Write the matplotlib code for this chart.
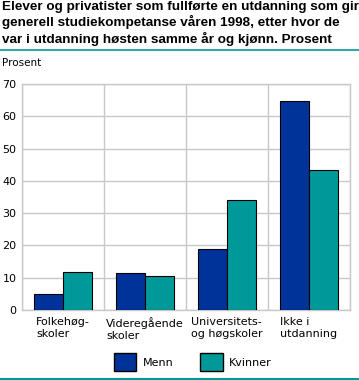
import numpy as np
import matplotlib.pyplot as plt
from matplotlib.patches import Patch

categories = ["Folkehøg-\nskoler", "Videregående\nskoler", "Universitets-\nog høgskoler", "Ikke i\nutdanning"]
menn = [4.9, 11.4, 18.8, 64.6]
kvinner = [11.7, 10.6, 34.0, 43.5]
yticks = [0, 10, 20, 30, 40, 50, 60, 70]

title = ("Elever og privatister som fullførte en utdanning som gir\n"
         "generell studiekompetanse våren 1998, etter hvor de\n"
         "var i utdanning høsten samme år og kjønn. Prosent")

c_menn = "#003399"
c_kvinner = "#009999"
grid_c = "#c8c8c8"

W, H = 359, 380
fig = plt.figure(figsize=(W / 100, H / 100), dpi=100)
ax = fig.add_axes([22 / W, 1 - 310 / H, (350 - 22) / W, (310 - 84) / H])

x = np.arange(len(categories))
w = 0.35
ax.bar(x - w / 2, menn, w, color=c_menn, edgecolor="black", linewidth=0.8, zorder=3)
ax.bar(x + w / 2, kvinner, w, color=c_kvinner, edgecolor="black", linewidth=0.8, zorder=3)

ax.set_xlim(-0.5, len(categories) - 0.5)
ax.set_ylim(0, 70)
ax.set_yticks(yticks)
ax.set_yticklabels([str(t) for t in yticks], fontsize=8)
ax.set_xticks(np.arange(-0.5, len(categories), 1), minor=False)
ax.set_xticklabels([])
ax.tick_params(length=0, pad=4)
ax.grid(True, color=grid_c, linewidth=1, zorder=0)
for s in ax.spines.values():
    s.set_color(grid_c)
    s.set_linewidth(1)

for i, lab in enumerate(categories):
    ax.text(i, -2.3, lab, ha="center", va="top", multialignment="left",
            fontsize=8, linespacing=1.25)

fig.text(2 / W, 1 - 1 / H, title, ha="left", va="top", fontsize=9.7,
         family="Liberation Sans", fontweight="bold", linespacing=1.22)
fig.add_artist(plt.Line2D([0, 1], [1 - 50 / H, 1 - 50 / H], color=c_kvinner, linewidth=1.2))
fig.add_artist(plt.Line2D([0, 1], [1 - 379 / H, 1 - 379 / H], color=c_kvinner, linewidth=1.5))
fig.text(2 / W, 1 - 63 / H, "Prosent", ha="left", va="center", fontsize=7.5)

handles = [Patch(facecolor=c_menn, edgecolor="black", label="Menn"),
           Patch(facecolor=c_kvinner, edgecolor="black", label="Kvinner")]
fig.legend(handles=handles, loc="center", bbox_to_anchor=(193 / W, 1 - 362 / H),
           ncol=2, frameon=False, fontsize=8, handlelength=2.0, handleheight=2.0,
           columnspacing=2.4, handletextpad=0.6)

fig.savefig("out.png", dpi=100)
